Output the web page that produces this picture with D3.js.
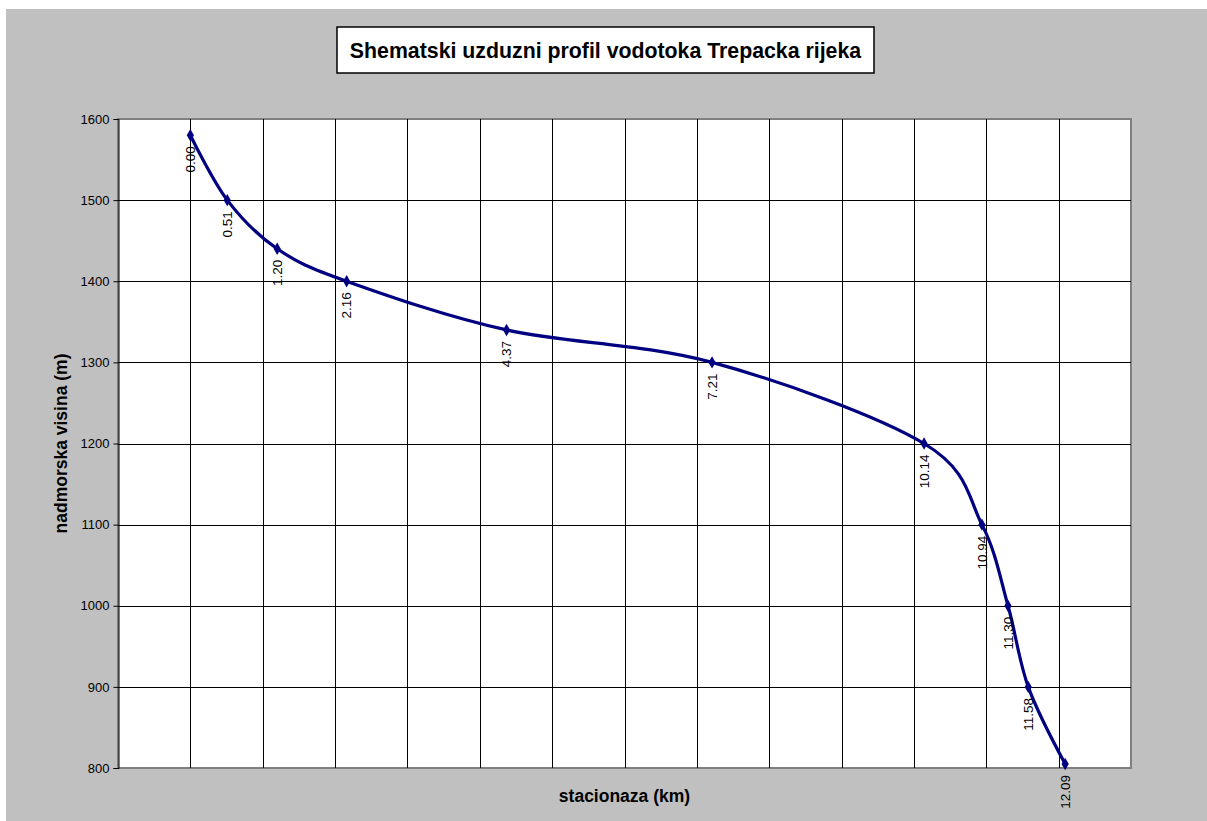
<!DOCTYPE html>
<html>
<head>
<meta charset="utf-8">
<script src="https://cdn.jsdelivr.net/npm/d3@7"></script>
<style>
  body { margin: 0; background: #fff; }
  text { font-family: "Liberation Sans", Arial, sans-serif; }
</style>
</head>
<body>
<div id="chart"></div>
<script>
// river profile data: stationing (km) and elevation (m)
var stationKm = [0.00, 0.51, 1.20, 2.16, 4.37, 7.21, 10.14, 10.94, 11.30, 11.58, 12.09];
var elevation = [1580, 1500, 1440, 1400, 1340, 1300, 1200, 1100, 1000, 900, 805];
var yTicks = [800, 900, 1000, 1100, 1200, 1300, 1400, 1500, 1600];
var xGrid = [-1, 0, 1, 2, 3, 4, 5, 6, 7, 8, 9, 10, 11, 12, 13];

var svgWidth = 1207;
var svgHeight = 821;

var plot = { left: 118, top: 119, right: 1131, bottom: 768 };

var svg = d3.select("#chart")
  .append("svg")
  .attr("width", svgWidth)
  .attr("height", svgHeight);

// gray chart area
svg.append("rect")
  .attr("x", 6).attr("y", 9)
  .attr("width", svgWidth - 6).attr("height", svgHeight - 9)
  .attr("fill", "#c0c0c0");

var xScale = d3.scaleLinear().domain([-1, 13]).range([plot.left, plot.right]);
var yScale = d3.scaleLinear().domain([800, 1600]).range([plot.bottom, plot.top]);

// plot area
svg.append("rect")
  .attr("x", plot.left).attr("y", plot.top)
  .attr("width", plot.right - plot.left).attr("height", plot.bottom - plot.top)
  .attr("fill", "#fff")
  .attr("stroke", "#808080")
  .attr("stroke-width", 2);

// grid lines
svg.append("g")
  .selectAll("line")
  .data(xGrid.slice(1, -1))
  .enter().append("line")
  .attr("x1", function(d) { return Math.round(xScale(d)) + 0.5; })
  .attr("x2", function(d) { return Math.round(xScale(d)) + 0.5; })
  .attr("y1", plot.top).attr("y2", plot.bottom)
  .attr("stroke", "#000").attr("stroke-width", 1);

svg.append("g")
  .selectAll("line")
  .data(yTicks.slice(1, -1))
  .enter().append("line")
  .attr("y1", function(d) { return Math.round(yScale(d)) + 0.5; })
  .attr("y2", function(d) { return Math.round(yScale(d)) + 0.5; })
  .attr("x1", plot.left).attr("x2", plot.right)
  .attr("stroke", "#000").attr("stroke-width", 1);

// y axis
var yAxis = d3.axisLeft(yScale)
  .tickValues(yTicks)
  .tickFormat(d3.format("d"))
  .tickSize(5)
  .tickPadding(4);
var yAxisG = svg.append("g")
  .attr("transform", "translate(" + (plot.left + 0.5) + ",0)")
  .call(yAxis);
yAxisG.selectAll("path, line").attr("stroke", "#000");
yAxisG.selectAll("text")
  .attr("font-size", 13)
  .attr("font-family", "Liberation Sans, Arial, sans-serif")
  .attr("fill", "#000");

// profile line
var pts = stationKm.map(function(d, i) { return [xScale(d), yScale(elevation[i])]; });
var line = d3.line().curve(d3.curveCardinal.tension(0));

svg.append("path")
  .attr("d", line(pts))
  .attr("fill", "none")
  .attr("stroke", "#000080")
  .attr("stroke-width", 3.2);

// markers
svg.append("g")
  .selectAll("path")
  .data(pts)
  .enter().append("path")
  .attr("d", d3.symbol().type(d3.symbolDiamond).size(45))
  .attr("transform", function(d) { return "translate(" + d[0] + "," + d[1] + ")"; })
  .attr("fill", "#000080");

// data labels
svg.append("g")
  .selectAll("text")
  .data(stationKm)
  .enter().append("text")
  .attr("transform", function(d, i) {
    return "translate(" + xScale(d) + "," + (yScale(elevation[i]) + 11) + ") rotate(-90)";
  })
  .attr("text-anchor", "end")
  .attr("dy", "0.35em")
  .attr("font-size", 13.5)
  .text(function(d) { return d.toFixed(2); });

// title box
svg.append("rect")
  .attr("x", 337).attr("y", 27)
  .attr("width", 537).attr("height", 46)
  .attr("fill", "#fff")
  .attr("stroke", "#000")
  .attr("stroke-width", 1.5);

svg.append("text")
  .attr("x", 605.5).attr("y", 58)
  .attr("text-anchor", "middle")
  .attr("font-size", 21.3)
  .attr("font-weight", "bold")
  .text("Shematski uzduzni profil vodotoka Trepacka rijeka");

// axis titles
svg.append("text")
  .attr("x", 624.5).attr("y", 802)
  .attr("text-anchor", "middle")
  .attr("font-size", 17.5)
  .attr("font-weight", "bold")
  .text("stacionaza (km)");

svg.append("text")
  .attr("transform", "translate(67," + ((plot.top + plot.bottom) / 2) + ") rotate(-90)")
  .attr("text-anchor", "middle")
  .attr("font-size", 17.5)
  .attr("font-weight", "bold")
  .text("nadmorska visina (m)");
</script>
</body>
</html>
